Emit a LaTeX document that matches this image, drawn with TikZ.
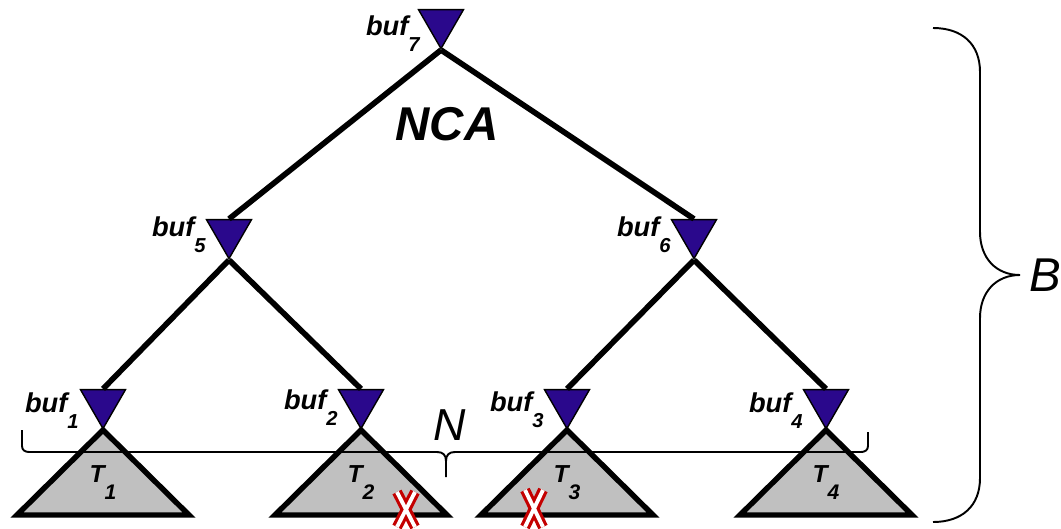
\documentclass[tikz,border=0pt]{standalone}
\usepackage{fontspec}
\setmainfont{Liberation Sans}
\usetikzlibrary{shapes.geometric}

\definecolor{bufblue}{RGB}{42,8,140}
\definecolor{treegray}{RGB}{192,192,192}
\definecolor{failred}{RGB}{196,0,0}

\newcommand{\buflbl}[1]{\fontsize{15.5}{16}\selectfont\bfseries\itshape buf\raisebox{-9.5pt}{\fontsize{11.5}{12}\selectfont #1}}
\newcommand{\treelbl}[1]{\fontsize{14}{15}\selectfont\bfseries\itshape T\raisebox{-10pt}{\fontsize{12}{12}\selectfont #1}}

\tikzset{
  buffer/.style={regular polygon, regular polygon sides=3, shape border rotate=180,
    draw=black, line width=0.8pt, fill=bufblue, minimum size=1.04cm, inner sep=0pt,
    anchor=corner 1},
  subtree/.style={draw=black, line width=3.1pt, fill=treegray},
  tedge/.style={line width=3.2pt},
  buf label/.style={inner sep=0pt, anchor=base east},
  brace line/.style={line width=1.1pt},
  xmark/.style={draw=failred, line width=1.8pt, double=white, double distance=2.2pt},
}

\begin{document}
\begin{tikzpicture}[x=0.02cm, y=-0.02cm]
\useasboundingbox (0,0) rectangle (1061,528);

% buffers
\node[buffer] (b7) at (441,50) {};
\node[buffer] (b5) at (229,260) {};
\node[buffer] (b6) at (694,260) {};
\node[buffer] (b1) at (103,430) {};
\node[buffer] (b2) at (361,430) {};
\node[buffer] (b3) at (567,430) {};
\node[buffer] (b4) at (826,430) {};

% subtrees below the leaf buffers
\foreach \b in {1,...,4}
  \filldraw[subtree] (b\b.corner 1) -- ++(-86,85) -- ++(172,0) -- cycle;

% tree edges
\foreach \p/\c in {b7/b5, b7/b6, b5/b1, b5/b2, b6/b3, b6/b4}
  \draw[tedge] (\p.corner 1) -- (\c.north);

% brace over the leaves
\draw[brace line] (22,430) -- (22,446) .. controls (22,450) and (25,452) .. (29,452)
  -- (437,452) .. controls (443,452) and (446,455) .. (446,461) -- (446,477)
  (446,461) .. controls (446,455) and (449,452) .. (455,452)
  -- (861,452) .. controls (865,452) and (868,450) .. (868,446) -- (868,432);

% brace over the height
\draw[brace line] (933,28) .. controls (962,28) and (980,44) .. (980,72) -- (980,232)
  .. controls (980,258) and (996,275) .. (1020,275)
  .. controls (996,275) and (980,292) .. (980,318) -- (980,478)
  .. controls (980,506) and (962,522) .. (933,522);

% labels
\node[buf label] (l7) at (420,35) {\buflbl{7}};
\node[buf label] (l5) at (206,236) {\buflbl{5}};
\node[buf label] (l6) at (671,236) {\buflbl{6}};
\node[buf label] (l1) at (79,412) {\buflbl{1}};
\node[buf label] (l2) at (338,409) {\buflbl{2}};
\node[buf label] (l3) at (544,411) {\buflbl{3}};
\node[buf label] (l4) at (803,412) {\buflbl{4}};

\node[inner sep=0pt, anchor=base] (t1) at (103,482) {\treelbl{1}};
\node[inner sep=0pt, anchor=base] (t2) at (361,482) {\treelbl{2}};
\node[inner sep=0pt, anchor=base] (t3) at (567,482) {\treelbl{3}};
\node[inner sep=0pt, anchor=base] (t4) at (826,482) {\treelbl{4}};

\node[inner sep=0pt, anchor=base, font=\fontsize{27}{28}\selectfont\bfseries\itshape] (nca) at (447,140) {NCA};
\node[inner sep=0pt, anchor=base, font=\fontsize{25.5}{27}\selectfont\itshape] (nlbl) at (450,440) {N};
\node[inner sep=0pt, anchor=west, font=\fontsize{27}{28}\selectfont\itshape] (blbl) at (1029,275) {B};

% failed leaves
\draw[xmark] (397,492) -- (415,527) (415,492) -- (397,527);
\draw[xmark] (525,490) -- (543,527) (543,490) -- (525,527);
\end{tikzpicture}
\end{document}
